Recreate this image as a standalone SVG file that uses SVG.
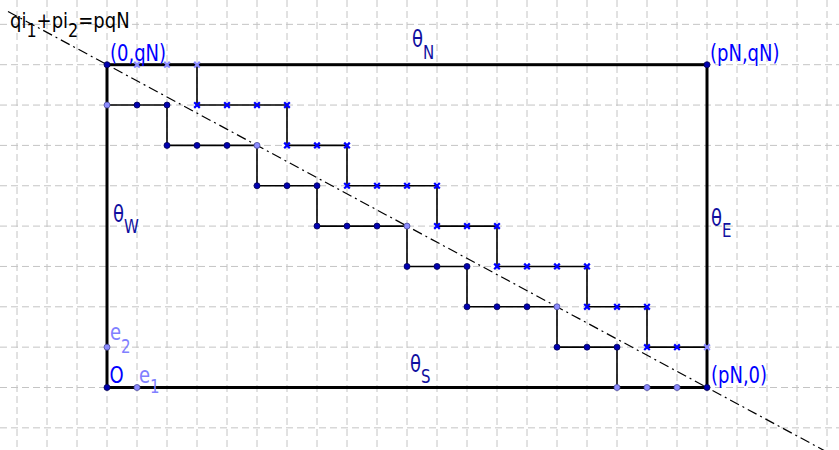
<svg xmlns="http://www.w3.org/2000/svg" xmlns:xlink="http://www.w3.org/1999/xlink" width="839" height="450" viewBox="0 0 839 450">
<style>
.grid{fill:none;stroke:#c4c4c4;stroke-width:1;stroke-dasharray:7,4}
.frame{fill:none;stroke:#000;stroke-width:3}
.stair{fill:none;stroke:#000;stroke-width:1.6}
.diag{fill:none;stroke:#000;stroke-width:1.2;stroke-dasharray:10,4,2,4}
.pd{fill:#0000b0;stroke:#000050;stroke-width:0.8}
.pl{fill:#8c8cff;stroke:#4a4a99;stroke-width:0.8}
.xm{fill:none;stroke:#0000ff;stroke-width:2.2}
.xl{fill:none;stroke:#8888ff;stroke-width:2.2}
text{font-family:"DejaVu Sans","Liberation Sans",sans-serif;font-size:18px}
.eq{fill:#000}
.co{fill:#0000ff}
.th{fill:#1010a0}
.ev{fill:#8080ff}
</style>
<defs>
<path id="x" d="M-2.8,-2.8L2.8,2.8M-2.8,2.8L2.8,-2.8"/>
<circle id="d" r="3"/>
</defs>
<g id="grid">
<path class="grid" d="M17,0V450M47,0V450M77,0V450M107,0V450M137,0V450M167,0V450M197,0V450M227,0V450M257,0V450M287,0V450M317,0V450M347,0V450M377,0V450M407,0V450M437,0V450M467,0V450M497,0V450M527,0V450M557,0V450M587,0V450M617,0V450M647,0V450M677,0V450M707,0V450M737,0V450M767,0V450M797,0V450M827,0V450"/>
<path class="grid" d="M0,24.35H839M0,64.7H839M0,105.05H839M0,145.4H839M0,185.75H839M0,226.1H839M0,266.45H839M0,306.8H839M0,347.15H839M0,387.5H839M0,427.85H839"/>
</g>
<g id="line-qi1-pi2-pqN">
<path class="diag" d="M8,11.44L845,461.74"/>
</g>
<g id="domain">
<rect class="frame" x="107" y="64.7" width="600" height="322.8"/>
</g>
<g id="connectors">
<path class="stair" d="M107,105.05H167V145.4H257V185.75H317V226.1H407V266.45H467V306.8H557V347.15H617V387.5"/>
<path class="stair" d="M197,64.7V105.05H287V145.4H347V185.75H437V226.1H497V266.45H587V306.8H647V347.15H707"/>
</g>
<g id="cross-markers">
<g class="xl">
<use xlink:href="#x" x="137" y="64.7"/><use xlink:href="#x" x="167" y="64.7"/><use xlink:href="#x" x="197" y="64.7"/><use xlink:href="#x" x="707" y="347.15"/>
</g>
<g class="xm">
<use xlink:href="#x" x="197" y="105.05"/><use xlink:href="#x" x="227" y="105.05"/><use xlink:href="#x" x="257" y="105.05"/><use xlink:href="#x" x="287" y="105.05"/>
<use xlink:href="#x" x="287" y="145.4"/><use xlink:href="#x" x="317" y="145.4"/><use xlink:href="#x" x="347" y="145.4"/>
<use xlink:href="#x" x="347" y="185.75"/><use xlink:href="#x" x="377" y="185.75"/><use xlink:href="#x" x="407" y="185.75"/><use xlink:href="#x" x="437" y="185.75"/>
<use xlink:href="#x" x="437" y="226.1"/><use xlink:href="#x" x="467" y="226.1"/><use xlink:href="#x" x="497" y="226.1"/>
<use xlink:href="#x" x="497" y="266.45"/><use xlink:href="#x" x="527" y="266.45"/><use xlink:href="#x" x="557" y="266.45"/><use xlink:href="#x" x="587" y="266.45"/>
<use xlink:href="#x" x="587" y="306.8"/><use xlink:href="#x" x="617" y="306.8"/><use xlink:href="#x" x="647" y="306.8"/>
<use xlink:href="#x" x="647" y="347.15"/><use xlink:href="#x" x="677" y="347.15"/>
</g>
</g>
<g id="dot-points">
<g class="pl">
<use xlink:href="#d" x="107" y="105.05"/><use xlink:href="#d" x="257" y="145.4"/><use xlink:href="#d" x="407" y="226.1"/><use xlink:href="#d" x="557" y="306.8"/>
<use xlink:href="#d" x="617" y="387.5"/><use xlink:href="#d" x="647" y="387.5"/><use xlink:href="#d" x="677" y="387.5"/>
</g>
<g class="pd">
<use xlink:href="#d" x="137" y="105.05"/><use xlink:href="#d" x="167" y="105.05"/>
<use xlink:href="#d" x="167" y="145.4"/><use xlink:href="#d" x="197" y="145.4"/><use xlink:href="#d" x="227" y="145.4"/>
<use xlink:href="#d" x="257" y="185.75"/><use xlink:href="#d" x="287" y="185.75"/><use xlink:href="#d" x="317" y="185.75"/>
<use xlink:href="#d" x="317" y="226.1"/><use xlink:href="#d" x="347" y="226.1"/><use xlink:href="#d" x="377" y="226.1"/>
<use xlink:href="#d" x="407" y="266.45"/><use xlink:href="#d" x="437" y="266.45"/><use xlink:href="#d" x="467" y="266.45"/>
<use xlink:href="#d" x="467" y="306.8"/><use xlink:href="#d" x="497" y="306.8"/><use xlink:href="#d" x="527" y="306.8"/>
<use xlink:href="#d" x="557" y="347.15"/><use xlink:href="#d" x="587" y="347.15"/><use xlink:href="#d" x="617" y="347.15"/>
</g>
</g>
<g id="O"><use class="pd" xlink:href="#d" x="107" y="387.5"/><text class="co" transform="translate(109.5,383) scale(1,1.25)">O</text></g>
<g id="e1"><use class="pl" xlink:href="#d" x="137" y="387.5"/><text class="ev" transform="translate(139,383) scale(1,1.25)">e<tspan font-size="15" dy="8">1</tspan></text></g>
<g id="e2"><use class="pl" xlink:href="#d" x="107" y="347.15"/><text class="ev" transform="translate(110,340) scale(1,1.25)">e<tspan font-size="15" dy="10">2</tspan></text></g>
<g id="p0qN"><use class="pd" xlink:href="#d" x="107" y="64.7"/><text class="co" transform="translate(110,61) scale(1,1.28)">(0,qN)</text></g>
<g id="pNqN"><use class="pd" xlink:href="#d" x="707" y="64.7"/><text class="co" transform="translate(710,61) scale(1,1.28)">(pN,qN)</text></g>
<g id="pN0"><use class="pd" xlink:href="#d" x="707" y="387.5"/><text class="co" transform="translate(711,383) scale(1,1.28)">(pN,0)</text></g>
<g id="thetaN"><text class="th" font-size="20" transform="translate(412,46.5) scale(1,1.25)">θ<tspan font-size="15" dy="10">N</tspan></text></g>
<g id="thetaS"><text class="th" font-size="20" transform="translate(410,372) scale(1,1.25)">θ<tspan font-size="15" dy="8.5">S</tspan></text></g>
<g id="thetaW"><text class="th" font-size="20" transform="translate(113,222) scale(1,1.25)">θ<tspan font-size="15" dy="9">W</tspan></text></g>
<g id="thetaE"><text class="th" font-size="20" transform="translate(711,226) scale(1,1.25)">θ<tspan font-size="15" dy="9">E</tspan></text></g>
<g id="equation"><text class="eq" transform="translate(10,28) scale(1,1.22)" font-size="19">qi<tspan font-size="16" dy="7">1</tspan><tspan dy="-7">+pi</tspan><tspan font-size="16" dy="7">2</tspan><tspan dy="-7">=pqN</tspan></text></g>
</svg>
